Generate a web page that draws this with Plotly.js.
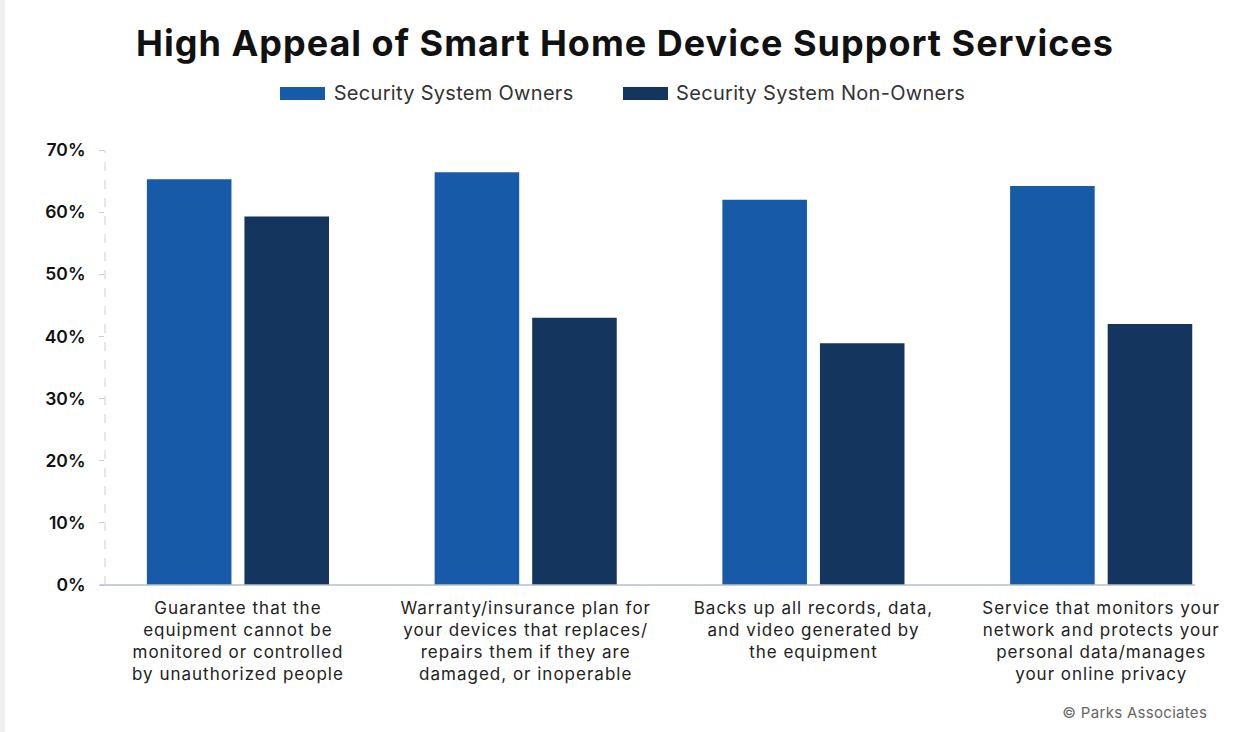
<!DOCTYPE html>
<html>
<head>
<meta charset="utf-8">
<script src="https://cdn.plot.ly/plotly-3.0.1.min.js"></script>
<style>
  html, body { margin: 0; padding: 0; }
  body { width: 1244px; height: 732px; background: linear-gradient(to right, #f0f0f0 0px, #f0f0f0 5px, #ffffff 5px); }
  #chart { width: 1244px; height: 732px; }
  #chart .gtitle { letter-spacing: 1px; }
  #chart .xtick text { letter-spacing: 1px; }
  #chart .annotation-text { letter-spacing: 0.3px; }
</style>
</head>
<body>
<div id="chart"></div>
<script>
const categories = [
  "Guarantee that the<br>equipment cannot be<br>monitored or controlled<br>by unauthorized people",
  "Warranty/insurance plan for<br>your devices that replaces/<br>repairs them if they are<br>damaged, or inoperable",
  "Backs up all records, data,<br>and video generated by<br>the equipment",
  "Service that monitors your<br>network and protects your<br>personal data/manages<br>your online privacy"
];
const seriesNames = ["Security System Owners", "Security System Non-Owners"];
const owners = [65.3, 66.4, 62.0, 64.2];
const nonOwners = [59.3, 43.0, 38.9, 42.0];
const colors = ["#175AA8", "#14365E"];
const yTicks = [0, 10, 20, 30, 40, 50, 60, 70];

const FONT = "Inter, 'Noto Sans', sans-serif";

const traces = [owners, nonOwners].map((vals, i) => ({
  type: "bar",
  name: seriesNames[i],
  x: categories,
  y: vals,
  marker: { color: colors[i] },
  hoverinfo: "none",
  showlegend: false
}));

// custom legend (swatch + label) in paper coords
const legendSwatchX = [[280, 325], [623, 668]];
const legendTextX = [335, 678];
const W = 1244, H = 732;
const m = { l: 105, r: 49, t: 150, b: 147 };
const pw = W - m.l - m.r, ph = H - m.t - m.b;
const px = v => (v - m.l) / pw;
const py = v => (H - m.b - v) / ph;

const shapes = [
  { type: "line", xref: "paper", yref: "y", x0: 0, x1: 0, y0: 0, y1: 70,
    line: { color: "#cfcfcf", width: 1, dash: "dash" } },
  { type: "line", xref: "paper", yref: "paper", x0: px(100), x1: 1, y0: 0, y1: 0,
    line: { color: "#b7bfcc", width: 1.5 } }
];
const annotations = [
  { text: "© Parks Associates", xref: "paper", yref: "paper", x: px(1206), y: py(712),
    xanchor: "right", yanchor: "middle", showarrow: false,
    font: { family: FONT, size: 15, color: "#666666" } }
];
seriesNames.forEach((name, i) => {
  shapes.push({ type: "rect", xref: "paper", yref: "paper",
    x0: px(legendSwatchX[i][0]), x1: px(legendSwatchX[i][1]), y0: py(100), y1: py(87),
    fillcolor: colors[i], line: { width: 0 } });
  annotations.push({ text: name, xref: "paper", yref: "paper", x: px(legendTextX[i]), y: py(93),
    xanchor: "left", yanchor: "middle", showarrow: false,
    font: { family: FONT, size: 20, color: "#333333" } });
});

const layout = {
  width: W, height: H,
  margin: m,
  paper_bgcolor: "rgba(0,0,0,0)",
  plot_bgcolor: "rgba(0,0,0,0)",
  title: { text: "<b>High Appeal of Smart Home Device Support Services</b>",
    x: 625 / W, xref: "container", xanchor: "center", y: 1 - 43 / H, yanchor: "middle",
    font: { family: FONT, size: 36, color: "#111111" } },
  barmode: "group",
  bargap: 0.322,
  bargroupgap: 0.133,
  showlegend: false,
  xaxis: {
    type: "category",
    range: [-0.462, 3.326],
    showline: false, showgrid: false, zeroline: false, ticks: "",
    tickfont: { family: FONT, size: 17, color: "#222222" },
    ticklabelstandoff: 11
  },
  yaxis: {
    range: [0, 70],
    tickvals: yTicks,
    ticktext: yTicks.map(v => v + "%"),
    showgrid: false, zeroline: false, showline: false,
    ticks: "outside", ticklen: 5, tickcolor: "#cfcfcf",
    tickfont: { family: FONT, size: 17.5, color: "#111111", weight: 600 },
    ticklabelstandoff: 10
  },
  shapes: shapes,
  annotations: annotations
};

Plotly.newPlot("chart", traces, layout, { displayModeBar: false, staticPlot: true });
</script>
</body>
</html>
